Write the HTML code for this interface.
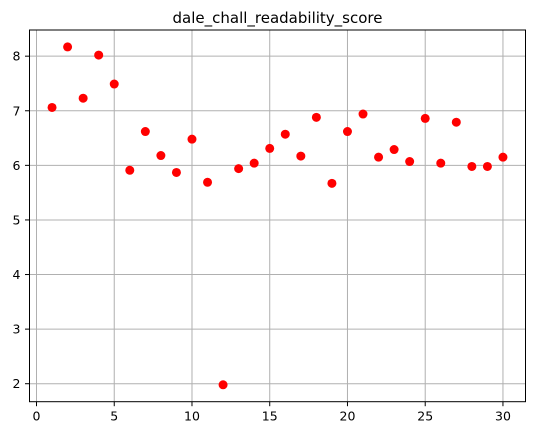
<!DOCTYPE html>
<html><head><meta charset="utf-8"><style>
body{margin:0;background:#fff;}
svg{display:block;font-family:"DejaVu Sans","Liberation Sans",sans-serif;}
</style></head><body>
<svg id="chart" width="538" height="435"></svg>
<script>
const xValues=[1,2,3,4,5,6,7,8,9,10,11,12,13,14,15,16,17,18,19,20,21,22,23,24,25,26,27,28,29,30];
const yValues=[7.06,8.17,7.23,8.02,7.49,5.91,6.62,6.18,5.87,6.48,5.69,1.98,5.94,6.04,6.31,6.57,6.17,6.88,5.67,6.62,6.94,6.15,6.29,6.07,6.86,6.04,6.79,5.98,5.98,6.15];
const xTicks=[0,5,10,15,20,25,30];
const yTicks=[2,3,4,5,6,7,8];
const titleText="dale_chall_readability_score";

const L=29.5,R=525.5,T=30,B=401.7;
const xmin=Math.min(...xValues),xmax=Math.max(...xValues),ymin=Math.min(...yValues),ymax=Math.max(...yValues);
const x0=xmin-(xmax-xmin)*0.05,x1=xmax+(xmax-xmin)*0.05;
const y0=ymin-(ymax-ymin)*0.05,y1=ymax+(ymax-ymin)*0.05;
const sx=v=>L+(v-x0)/(x1-x0)*(R-L);
const sy=v=>B-(v-y0)/(y1-y0)*(B-T);
const svg=document.getElementById('chart');
const NS='http://www.w3.org/2000/svg';
function mk(tag,attrs,parent){const e=document.createElementNS(NS,tag);for(const k in attrs)e.setAttribute(k,attrs[k]);(parent||svg).appendChild(e);return e;}

xTicks.forEach(t=>{const x=sx(t);
 const g=mk('line',{x1:x,x2:x,y1:T,y2:B,stroke:'#b0b0b0','stroke-width':1});
 
 
 mk('line',{x1:x,x2:x,y1:B,y2:B+4.5,stroke:'#000','stroke-width':1});
 const tx=mk('text',{x:x,y:B+19,'text-anchor':'middle','font-size':12.5,fill:'#000'});tx.textContent=t;
 
 
});
yTicks.forEach(t=>{const y=sy(t);
 const g=mk('line',{x1:L,x2:R,y1:y,y2:y,stroke:'#b0b0b0','stroke-width':1});
 
 
 mk('line',{x1:L-4.5,x2:L,y1:y,y2:y,stroke:'#000','stroke-width':1});
 const tx=mk('text',{x:L-9,y:y+4.5,'text-anchor':'end','font-size':12.5,fill:'#000'});tx.textContent=t;
 
 
});
const frame=mk('rect',{x:L,y:T,width:R-L,height:B-T,fill:'none',stroke:'#000','stroke-width':1});


xValues.forEach((xv,i)=>{
 const c=mk('circle',{cx:sx(xv),cy:sy(yValues[i]),r:4.5,fill:'#ff0000'});
 
 
});
const title=mk('text',{x:(L+R)/2,y:T-7,'text-anchor':'middle','font-size':15,fill:'#000'});
title.textContent=titleText;


</script>
</body></html>
